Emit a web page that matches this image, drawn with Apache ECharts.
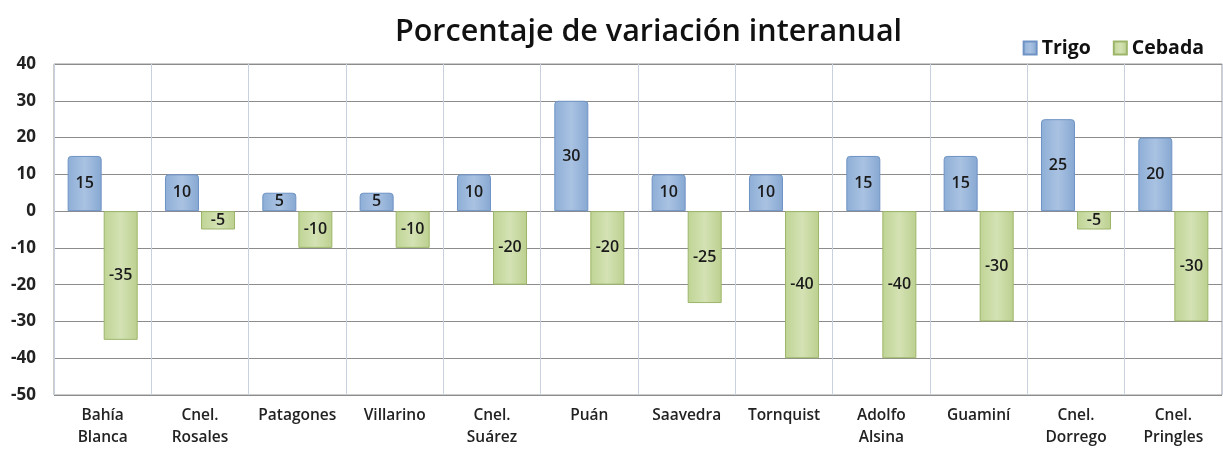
<!DOCTYPE html>
<html lang="es">
<head>
    <meta charset="UTF-8">
    <title>Porcentaje de variación interanual</title>
    <script src="https://cdn.jsdelivr.net/npm/echarts@6/dist/echarts.min.js"></script>
    <style>
        html, body { margin: 0; padding: 0; background: #fff; }
    </style>
</head>
<body>
    <div id="main" style="width: 1223px;height:454px;"></div>
    <script type="text/javascript">
        // datos
        var partidos = ['Bahía\nBlanca', 'Cnel.\nRosales', 'Patagones', 'Villarino', 'Cnel.\nSuárez', 'Puán',
            'Saavedra', 'Tornquist', 'Adolfo\nAlsina', 'Guaminí', 'Cnel.\nDorrego', 'Cnel.\nPringles'];
        var trigo = [15, 10, 5, 5, 10, 30, 10, 10, 15, 15, 25, 20];
        var cebada = [-35, -5, -10, -10, -20, -20, -25, -40, -40, -30, -5, -30];

        var fuente = '"Open Sans", "DejaVu Sans", sans-serif';

        var myChart = echarts.init(document.getElementById('main'));

        var etiqueta = {
            show: true,
            position: 'inside',
            color: '#1a1a1a',
            fontSize: 16,
            fontWeight: 600,
            fontFamily: fuente
        };

        var option = {
            animation: false,
            title: {
                text: 'Porcentaje de variación interanual',
                left: 390,
                top: 12,
                textStyle: { fontSize: 30.5, fontWeight: 600, color: '#111', fontFamily: fuente }
            },
            legend: {
                right: 14,
                top: 33,
                icon: 'rect',
                itemWidth: 13,
                itemHeight: 13,
                itemGap: 22,
                textStyle: { fontSize: 19.5, fontWeight: 700, color: '#111', fontFamily: fuente },
                data: ['Trigo', 'Cebada']
            },
            grid: {
                left: 54, right: 1, top: 64, bottom: 59,
                show: true, borderColor: '#999', borderWidth: 1
            },
            xAxis: {
                type: 'category',
                data: partidos,
                axisLine: { show: false },
                axisTick: { show: false },
                splitLine: { show: true, lineStyle: { color: '#c9d0de', width: 1 } },
                axisLabel: {
                    margin: 10, color: '#222', fontSize: 15.5, fontWeight: 600,
                    fontFamily: fuente, lineHeight: 22, interval: 0
                }
            },
            yAxis: {
                type: 'value',
                min: -50, max: 40, interval: 10,
                axisLine: { show: false },
                axisTick: { show: false },
                splitLine: { lineStyle: { color: '#8c8c8c', width: 1 } },
                axisLabel: { margin: 18, color: '#222', fontSize: 17, fontWeight: 700, fontFamily: fuente }
            },
            series: [
                {
                    name: 'Trigo',
                    type: 'bar',
                    data: trigo,
                    barWidth: 34,
                    barGap: '6%',
                    label: etiqueta,
                    itemStyle: {
                        color: new echarts.graphic.LinearGradient(0, 0, 1, 0, [
                            { offset: 0, color: '#8eaed6' },
                            { offset: 0.5, color: '#a9c2e2' },
                            { offset: 1, color: '#87a8d2' }
                        ]),
                        borderColor: '#6e93c4',
                        borderWidth: 1,
                        borderRadius: [3, 3, 0, 0]
                    }
                },
                {
                    name: 'Cebada',
                    type: 'bar',
                    data: cebada,
                    barWidth: 34,
                    label: etiqueta,
                    itemStyle: {
                        color: new echarts.graphic.LinearGradient(0, 0, 1, 0, [
                            { offset: 0, color: '#bfd494' },
                            { offset: 0.5, color: '#d4e2b4' },
                            { offset: 1, color: '#bcd08f' }
                        ]),
                        borderColor: '#9db56a',
                        borderWidth: 1
                    }
                }
            ]
        };

        myChart.setOption(option);
    </script>
</body>
</html>
